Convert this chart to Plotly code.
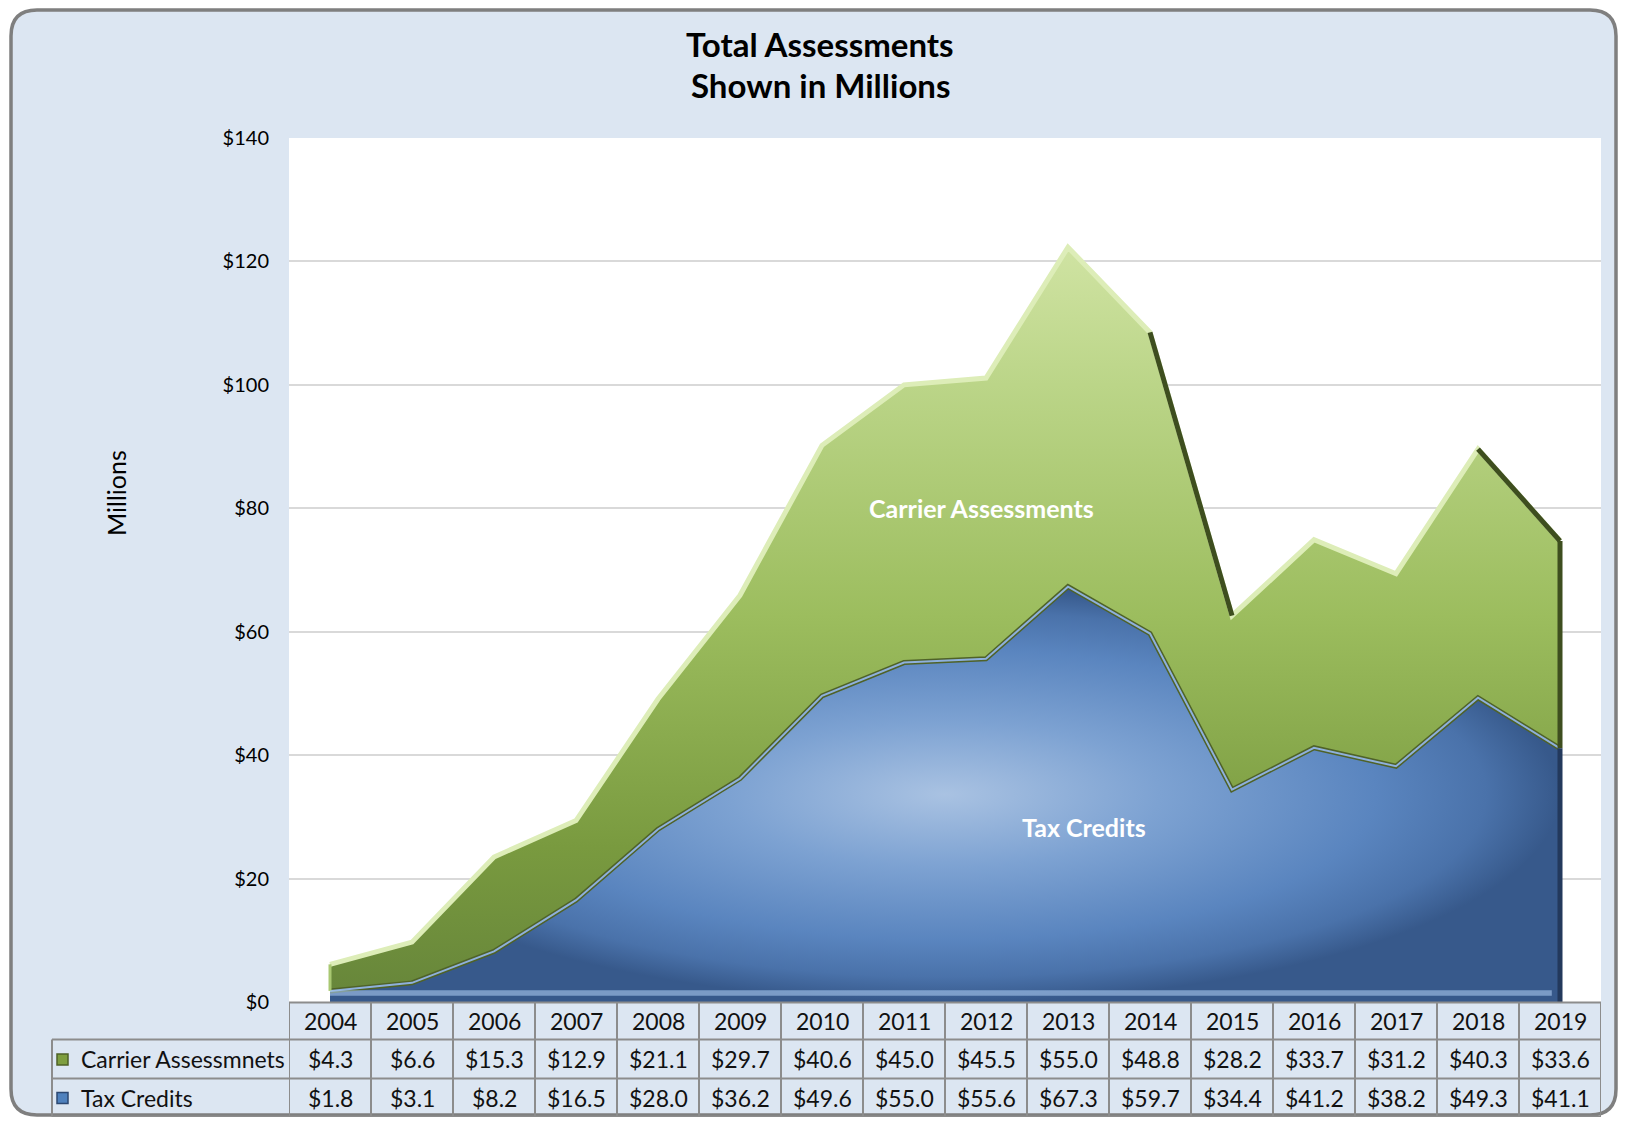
import numpy as np
import plotly.graph_objects as go

# data (millions of dollars)
years = ['2004', '2005', '2006', '2007', '2008', '2009', '2010', '2011',
         '2012', '2013', '2014', '2015', '2016', '2017', '2018', '2019']
carrier = [4.3, 6.6, 15.3, 12.9, 21.1, 29.7, 40.6, 45.0,
           45.5, 55.0, 48.8, 28.2, 33.7, 31.2, 40.3, 33.6]
tax_credits = [1.8, 3.1, 8.2, 16.5, 28.0, 36.2, 49.6, 55.0,
               55.6, 67.3, 59.7, 34.4, 41.2, 38.2, 49.3, 41.1]
series_names = ['Carrier Assessmnets', 'Tax Credits']
y_ticks = [0, 20, 40, 60, 80, 100, 120, 140]
y_tick_text = ['$' + str(v) for v in y_ticks]

FONT = 'Lato'
BG = '#DCE6F2'
GRID = '#D9D9D9'
TABLE_LINE = '#8C8C8C'
TXT = '#111111'

# the page adds an 8px body margin, so the figure is a bit smaller than the window
OFF = 8
W, H = 1610, 1109
# plot area, page pixels
L, R, T, B = 289, 1601, 138, 1002


def px_x(p):
    return (p - L) / (R - L)


def px_y(p):
    return (B - p) / (B - T)


x = np.arange(len(years))
tax = np.array(tax_credits)
total = tax + np.array(carrier)

fig = go.Figure()

# Tax credits area (bottom)
fig.add_trace(go.Scatter(
    x=x, y=tax, mode='lines', fill='tozeroy', name=series_names[1],
    line=dict(color='#4F6228', width=5),
    fillgradient=dict(type='radial', colorscale=[
        [0, '#A9C2E2'], [0.35, '#7DA2D2'], [0.7, '#5A85BF'], [0.88, '#4A72AA'], [1, '#37598B']]),
))
# Carrier assessments area (stacked on top)
fig.add_trace(go.Scatter(
    x=x, y=total, mode='lines', fill='tonexty', name=series_names[0],
    line=dict(color='#DDEDB8', width=5),
    fillgradient=dict(type='vertical', start=0, stop=125, colorscale=[
        [0, '#66853A'], [0.2, '#799A3F'], [0.5, '#9CBD5E'], [0.8, '#BBD588'], [1, '#D2E5A6']]),
))
# highlight on the tax credits edge
fig.add_trace(go.Scatter(x=x, y=tax, mode='lines', line=dict(color='#8EB0DC', width=2),
                         hoverinfo='skip'))

# bevel: steep falling segments of the top edge are in shadow
for i in range(len(x) - 1):
    if total[i + 1] - total[i] < -14:
        fig.add_trace(go.Scatter(x=x[i:i + 2], y=total[i:i + 2], mode='lines',
                                 line=dict(color='#3E4E1F', width=5), hoverinfo='skip'))
# right and left edges
fig.add_trace(go.Scatter(x=[x[-1], x[-1]], y=[tax[-1], total[-1]], mode='lines',
                         line=dict(color='#3E4E1F', width=5), hoverinfo='skip'))
fig.add_trace(go.Scatter(x=[x[-1], x[-1]], y=[0, tax[-1]], mode='lines',
                         line=dict(color='#23395C', width=5), hoverinfo='skip'))
fig.add_trace(go.Scatter(x=[x[0], x[0]], y=[tax[0], total[0]], mode='lines',
                         line=dict(color='#A9C872', width=3), hoverinfo='skip'))

shapes = []
# outer rounded panel (page pixels)
x1, x2, y1, y2, r = 11, 1616, 10, 1115, 26
path = (f"M {px_x(x1 + r)} {px_y(y1)} L {px_x(x2 - r)} {px_y(y1)} "
        f"Q {px_x(x2)} {px_y(y1)} {px_x(x2)} {px_y(y1 + r)} "
        f"L {px_x(x2)} {px_y(y2 - r)} Q {px_x(x2)} {px_y(y2)} {px_x(x2 - r)} {px_y(y2)} "
        f"L {px_x(x1 + r)} {px_y(y2)} Q {px_x(x1)} {px_y(y2)} {px_x(x1)} {px_y(y2 - r)} "
        f"L {px_x(x1)} {px_y(y1 + r)} Q {px_x(x1)} {px_y(y1)} {px_x(x1 + r)} {px_y(y1)} Z")
shapes.append(dict(type='path', path=path, xref='paper', yref='paper', layer='below',
                   fillcolor=BG, line=dict(color='#7F7F7F', width=3.5)))
shapes.append(dict(type='rect', xref='paper', yref='paper', x0=0, x1=1, y0=0, y1=1,
                   layer='below', fillcolor='white', line=dict(width=0)))
# light band along the bottom of the blue area
shapes.append(dict(type='rect', xref='x', yref='y', x0=x[0], x1=x[-1] - 0.1, y0=1.0, y1=1.9,
                   fillcolor='#A9C8EE', opacity=0.6, line=dict(width=0), layer='above'))

# data table
row_edges = [px_y(1002.5), px_y(1039.5), px_y(1078.5), px_y(1116.5)]
row_mid = [(row_edges[k] + row_edges[k + 1]) / 2 for k in range(3)]
legend_left = px_x(52)
for i in range(len(years) + 1):
    shapes.append(dict(type='line', xref='x', yref='paper', x0=i - 0.5, x1=i - 0.5,
                       y0=row_edges[0], y1=row_edges[3], line=dict(color=TABLE_LINE, width=2)))
shapes.append(dict(type='line', xref='paper', yref='paper', x0=legend_left, x1=legend_left,
                   y0=row_edges[1], y1=row_edges[3], line=dict(color=TABLE_LINE, width=2)))
shapes.append(dict(type='line', xref='paper', yref='paper', x0=0, x1=1,
                   y0=row_edges[0], y1=row_edges[0], line=dict(color=TABLE_LINE, width=2)))
for k in (1, 2, 3):
    shapes.append(dict(type='line', xref='paper', yref='paper', x0=legend_left, x1=1,
                       y0=row_edges[k], y1=row_edges[k], line=dict(color=TABLE_LINE, width=2)))

annotations = []


def note(xv, yv, text, size, xref='paper', yref='paper', color=TXT, **kw):
    d = dict(x=xv, y=yv, xref=xref, yref=yref, text=text, showarrow=False,
             xanchor='center', yanchor='middle', font=dict(size=size, color=color))
    d.update(kw)
    annotations.append(d)


for i, yr in enumerate(years):
    note(i, row_mid[0], yr, 23, xref='x')
    note(i, row_mid[1], f"${carrier[i]:.1f}", 23, xref='x')
    note(i, row_mid[2], f"${tax_credits[i]:.1f}", 23, xref='x')

# legend keys in the table
key_colors = [('#7E9E3F', '#4F6228'), ('#4F81BD', '#2C4872')]
for k, (fc, lc) in enumerate(key_colors):
    cy = row_mid[k + 1]
    shapes.append(dict(type='rect', xref='paper', yref='paper',
                       x0=px_x(57), x1=px_x(68), y0=cy - 6 / (B - T), y1=cy + 5 / (B - T),
                       fillcolor=fc, line=dict(color=lc, width=1.5)))
    note(px_x(79), cy, series_names[k], 23, xanchor='left')

# titles
note(px_x(820), px_y(44), '<b>Total Assessments</b>', 33, color='black')
note(px_x(820), px_y(85), '<b>Shown in Millions</b>', 33, color='black')
note(px_x(116), px_y(493), 'Millions', 25, color='black', textangle=-90)
# series labels inside the areas
note(7.94, 80, '<b>Carrier Assessments</b>', 25, xref='x', yref='y', color='white')
note(9.2, 28.4, '<b>Tax Credits</b>', 25, xref='x', yref='y', color='white')

fig.update_layout(
    width=W, height=H,
    margin=dict(l=L - OFF, r=W - (R - OFF), t=T - OFF, b=H - (B - OFF), pad=0),
    paper_bgcolor='white', plot_bgcolor='white',
    font=dict(family=FONT, color='black'),
    showlegend=False,
    shapes=shapes, annotations=annotations,
)
fig.update_xaxes(range=[-0.5, len(years) - 0.5], showticklabels=False, showgrid=False,
                 zeroline=False, showline=False, ticks='')
fig.update_yaxes(range=[0, 140], tickvals=y_ticks, ticktext=y_tick_text, showgrid=True,
                 gridcolor=GRID, gridwidth=2, zeroline=False, showline=False,
                 ticks='outside', ticklen=15, tickcolor='rgba(0,0,0,0)',
                 tickfont=dict(size=20, color='black'))

fig.write_html("out.html")
